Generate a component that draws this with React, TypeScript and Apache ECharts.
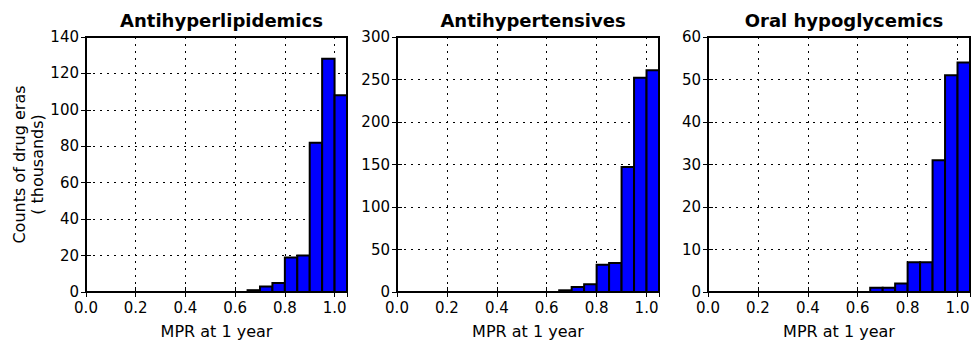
import React, { useEffect, useRef } from "react";
import * as echarts from "echarts";

const titles = ["Antihyperlipidemics", "Antihypertensives", "Oral hypoglycemics"];
const binStarts = [0, 0.05, 0.1, 0.15, 0.2, 0.25, 0.3, 0.35, 0.4, 0.45, 0.5, 0.55, 0.6, 0.65, 0.7, 0.75, 0.8, 0.85, 0.9, 0.95, 1.0];
const binWidth = 0.05;
const lipidCounts = [0, 0, 0, 0, 0, 0, 0, 0, 0, 0, 0, 0, 0, 1, 3, 5, 19, 20, 82, 128, 108];
const tensiveCounts = [0, 0, 0, 0, 0, 0, 0, 0, 0, 0, 0, 0, 0, 2, 6, 9, 32, 34, 147, 252, 261];
const glycemicCounts = [0, 0, 0, 0, 0, 0, 0, 0, 0, 0, 0, 0, 0, 1, 1, 2, 7, 7, 31, 51, 54];
const yMax = [140, 300, 60];
const yInterval = [20, 50, 10];
const xMax = 1.05;
const xInterval = 0.2;
const xLabel = "MPR at 1 year";
const yLabel = "Counts of drug eras\n( thousands)";

const FONT = "DejaVu Sans";

export default function App() {
  const ref = useRef<HTMLDivElement>(null);
  useEffect(() => {
    if (!ref.current) return;
    const chart = echarts.init(ref.current, null, { renderer: "svg" });
    const allCounts = [lipidCounts, tensiveCounts, glycemicCounts];
    const lefts = [86, 397, 708];
    const widths = [261, 262, 262];
    const top = 37;
    const height = 261;
    const grids: any[] = [];
    const xAxes: any[] = [];
    const yAxes: any[] = [];
    const series: any[] = [];
    const titleArr: any[] = [];
    const grid = { show: true, borderColor: "#000", borderWidth: 2, backgroundColor: "transparent" };
    const splitLine = { show: true, lineStyle: { color: "#000", type: [2, 5], width: 1 } };
    const tick = { show: true, inside: true, length: 5, lineStyle: { color: "#000", width: 1 } };
    for (let i = 0; i < 3; i++) {
      grids.push({ ...grid, left: lefts[i], top, width: widths[i], height });
      titleArr.push({
        text: titles[i],
        left: lefts[i] + widths[i] / 2,
        top: 6,
        textAlign: "center",
        textStyle: { fontFamily: FONT, fontSize: 18, fontWeight: "bold", color: "#000" },
      });
      xAxes.push({
        type: "value",
        gridIndex: i,
        min: 0,
        max: xMax,
        interval: xInterval,
        position: "bottom",
        axisLine: { show: false },
        axisTick: tick,
        axisLabel: {
          show: true,
          showMaxLabel: false,
          margin: 8,
          color: "#000",
          fontFamily: FONT,
          fontSize: 15,
          lineHeight: 15,
          formatter: (v: number) => v.toFixed(1),
        },
        splitLine,
        name: xLabel,
        nameLocation: "middle",
        nameGap: 31,
        nameTextStyle: { fontFamily: FONT, fontSize: 16, color: "#000" },
      });
      xAxes.push({
        type: "value",
        gridIndex: i,
        min: 0,
        max: xMax,
        interval: xInterval,
        position: "top",
        axisLine: { show: false },
        axisTick: tick,
        axisLabel: { show: false },
        splitLine: { show: false },
      });
      yAxes.push({
        type: "value",
        gridIndex: i,
        min: 0,
        max: yMax[i],
        interval: yInterval[i],
        position: "left",
        axisLine: { show: false },
        axisTick: tick,
        axisLabel: { show: true, margin: 7, color: "#000", fontFamily: FONT, fontSize: 15, lineHeight: 12 },
        splitLine,
        ...(i === 0
          ? {
              name: yLabel,
              nameLocation: "middle",
              nameGap: 38,
              nameRotate: 90,
              nameTextStyle: { fontFamily: FONT, fontSize: 16, color: "#000", lineHeight: 18, align: "center" },
            }
          : {}),
      });
      yAxes.push({
        type: "value",
        gridIndex: i,
        min: 0,
        max: yMax[i],
        interval: yInterval[i],
        position: "right",
        axisLine: { show: false },
        axisTick: tick,
        axisLabel: { show: false },
        splitLine: { show: false },
      });
      const data = binStarts.map((s, k) => [s, s + binWidth, allCounts[i][k]]);
      series.push({
        type: "custom",
        xAxisIndex: i * 2,
        yAxisIndex: i * 2,
        data,
        clip: false,
        renderItem: (_params: any, api: any) => {
          const x0 = api.value(0);
          const x1 = api.value(1);
          const y = api.value(2);
          const p0 = api.coord([x0, y]);
          const p1 = api.coord([x1, 0]);
          return {
            type: "rect",
            shape: { x: p0[0], y: p0[1], width: p1[0] - p0[0], height: p1[1] - p0[1] },
            style: { fill: "#0000ff", stroke: "#000", lineWidth: 2 },
          };
        },
      });
    }
    chart.setOption({
      animation: false,
      backgroundColor: "#fff",
      title: titleArr,
      grid: grids,
      xAxis: xAxes,
      yAxis: yAxes,
      series,
    });
    return () => chart.dispose();
  }, []);
  return (
    <div
      ref={ref}
      style={{ position: "fixed", left: 0, top: 0, width: 973, height: 344 }}
    />
  );
}
